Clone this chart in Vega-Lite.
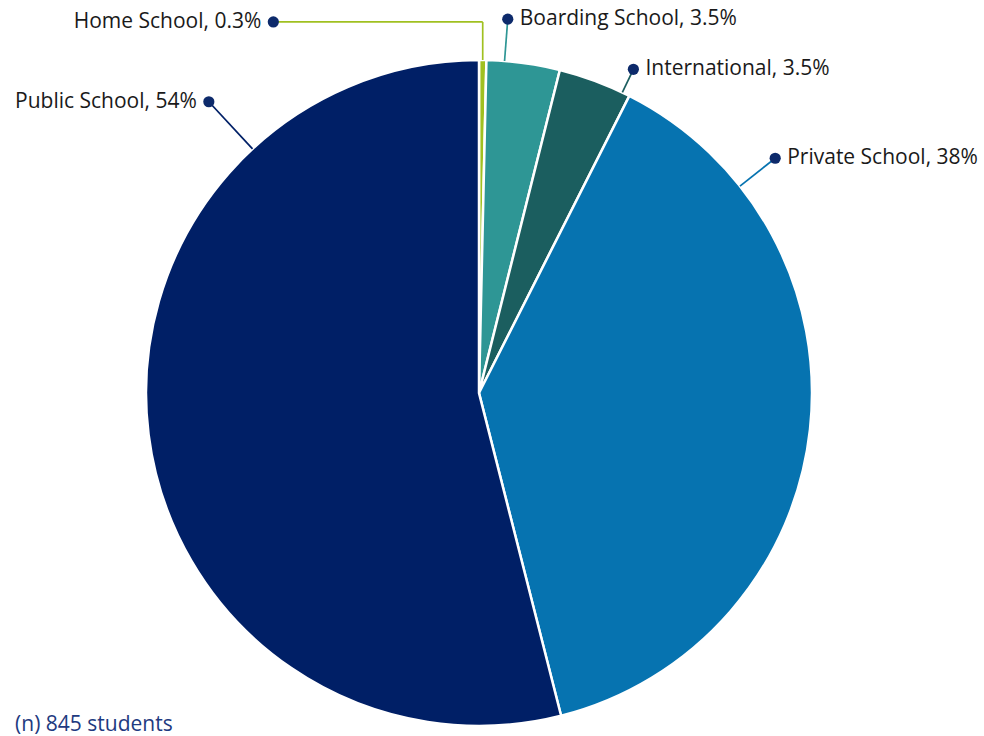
{
  "$schema": "https://vega.github.io/schema/vega-lite/v6.json",
  "width": 666,
  "height": 666,
  "autosize": {"type": "none"},
  "padding": {"left": 146, "top": 60, "right": 172, "bottom": 10},
  "background": "white",
  "config": {"view": {"stroke": null}, "font": "Open Sans"},
  "title": {
    "text": "(n) 845 students",
    "orient": "bottom",
    "anchor": "start",
    "frame": "bounds",
    "offset": -17,
    "font": "Open Sans",
    "fontSize": 21,
    "fontWeight": "normal",
    "color": "#1e3a80"
  },
  "data": {
    "values": [
      {"school": "Home School", "students": 3, "pct": "0.3%", "labelAngle": -29, "labelRadius": 1.274},
      {"school": "Boarding School", "students": 30, "pct": "3.5%", "labelAngle": 4.4, "labelRadius": 1.126},
      {"school": "International", "students": 30, "pct": "3.5%", "labelAngle": 25.5, "labelRadius": 1.077},
      {"school": "Private School", "students": 326, "pct": "38%", "labelAngle": 51.6, "labelRadius": 1.135},
      {"school": "Public School", "students": 456, "pct": "54%", "labelAngle": -42.85, "labelRadius": 1.193}
    ]
  },
  "transform": [
    {"window": [{"op": "row_number", "as": "idx"}]},
    {"joinaggregate": [{"op": "sum", "field": "students", "as": "total"}]},
    {"window": [{"op": "sum", "field": "students", "as": "cum"}], "sort": [{"field": "idx"}], "frame": [null, 0]},
    {"calculate": "(datum.cum - datum.students) / datum.total * 360", "as": "startDeg"},
    {"calculate": "datum.cum / datum.total * 360", "as": "endDeg"},
    {"calculate": "(datum.startDeg + datum.endDeg) / 2", "as": "midDeg"},
    {"calculate": "datum.school + ', ' + datum.pct", "as": "label"},
    {"calculate": "(datum.labelAngle + 360) % 360", "as": "la"},
    {"calculate": "datum.la >= datum.startDeg && datum.la <= datum.endDeg", "as": "inside"},
    {"calculate": "datum.labelRadius * sin(datum.labelAngle * PI / 180)", "as": "dotX"},
    {"calculate": "datum.labelRadius * cos(datum.labelAngle * PI / 180)", "as": "dotY"},
    {"calculate": "datum.inside ? datum.labelAngle : datum.midDeg", "as": "tipAng"},
    {"calculate": "sin(datum.tipAng * PI / 180)", "as": "tipX"},
    {"calculate": "cos(datum.tipAng * PI / 180)", "as": "tipY"},
    {"calculate": "datum.inside ? datum.dotX : datum.tipX", "as": "elbowX"},
    {"calculate": "datum.dotY", "as": "elbowY"},
    {"calculate": "datum.dotX < 0 ? 'left' : 'right'", "as": "side"}
  ],
  "layer": [
    {
      "mark": {"type": "arc", "outerRadius": 333, "stroke": "white", "strokeWidth": 2.5},
      "encoding": {
        "theta": {"field": "students", "type": "quantitative", "stack": true},
        "order": {"field": "idx", "type": "quantitative"},
        "color": {
          "field": "school",
          "type": "nominal",
          "legend": null,
          "scale": {
            "domain": ["Home School", "Boarding School", "International", "Private School", "Public School"],
            "range": ["#a0c020", "#2e9695", "#1b5e5f", "#0673b0", "#001f66"]
          }
        }
      }
    },
    {
      "mark": {"type": "rule", "strokeWidth": 1.7},
      "encoding": {
        "x": {"field": "dotX", "type": "quantitative", "scale": {"domain": [-1, 1]}, "axis": null},
        "y": {"field": "dotY", "type": "quantitative", "scale": {"domain": [-1, 1]}, "axis": null},
        "x2": {"field": "elbowX"},
        "y2": {"field": "elbowY"},
        "color": {"field": "school", "type": "nominal", "legend": null}
      }
    },
    {
      "mark": {"type": "rule", "strokeWidth": 1.7},
      "encoding": {
        "x": {"field": "elbowX", "type": "quantitative", "axis": null},
        "y": {"field": "elbowY", "type": "quantitative", "axis": null},
        "x2": {"field": "tipX"},
        "y2": {"field": "tipY"},
        "color": {"field": "school", "type": "nominal", "legend": null}
      }
    },
    {
      "mark": {"type": "point", "filled": true, "size": 125, "color": "#0d2a6b", "opacity": 1},
      "encoding": {
        "x": {"field": "dotX", "type": "quantitative", "axis": null},
        "y": {"field": "dotY", "type": "quantitative", "axis": null}
      }
    },
    {
      "transform": [{"filter": "datum.side == 'left'"}],
      "mark": {"type": "text", "align": "right", "baseline": "middle", "dx": -12, "font": "Open Sans", "fontSize": 21, "color": "#1a1a1a"},
      "encoding": {
        "x": {"field": "dotX", "type": "quantitative", "axis": null},
        "y": {"field": "dotY", "type": "quantitative", "axis": null},
        "text": {"field": "label"}
      }
    },
    {
      "transform": [{"filter": "datum.side == 'right'"}],
      "mark": {"type": "text", "align": "left", "baseline": "middle", "dx": 12, "font": "Open Sans", "fontSize": 21, "color": "#1a1a1a"},
      "encoding": {
        "x": {"field": "dotX", "type": "quantitative", "axis": null},
        "y": {"field": "dotY", "type": "quantitative", "axis": null},
        "text": {"field": "label"}
      }
    }
  ]
}
